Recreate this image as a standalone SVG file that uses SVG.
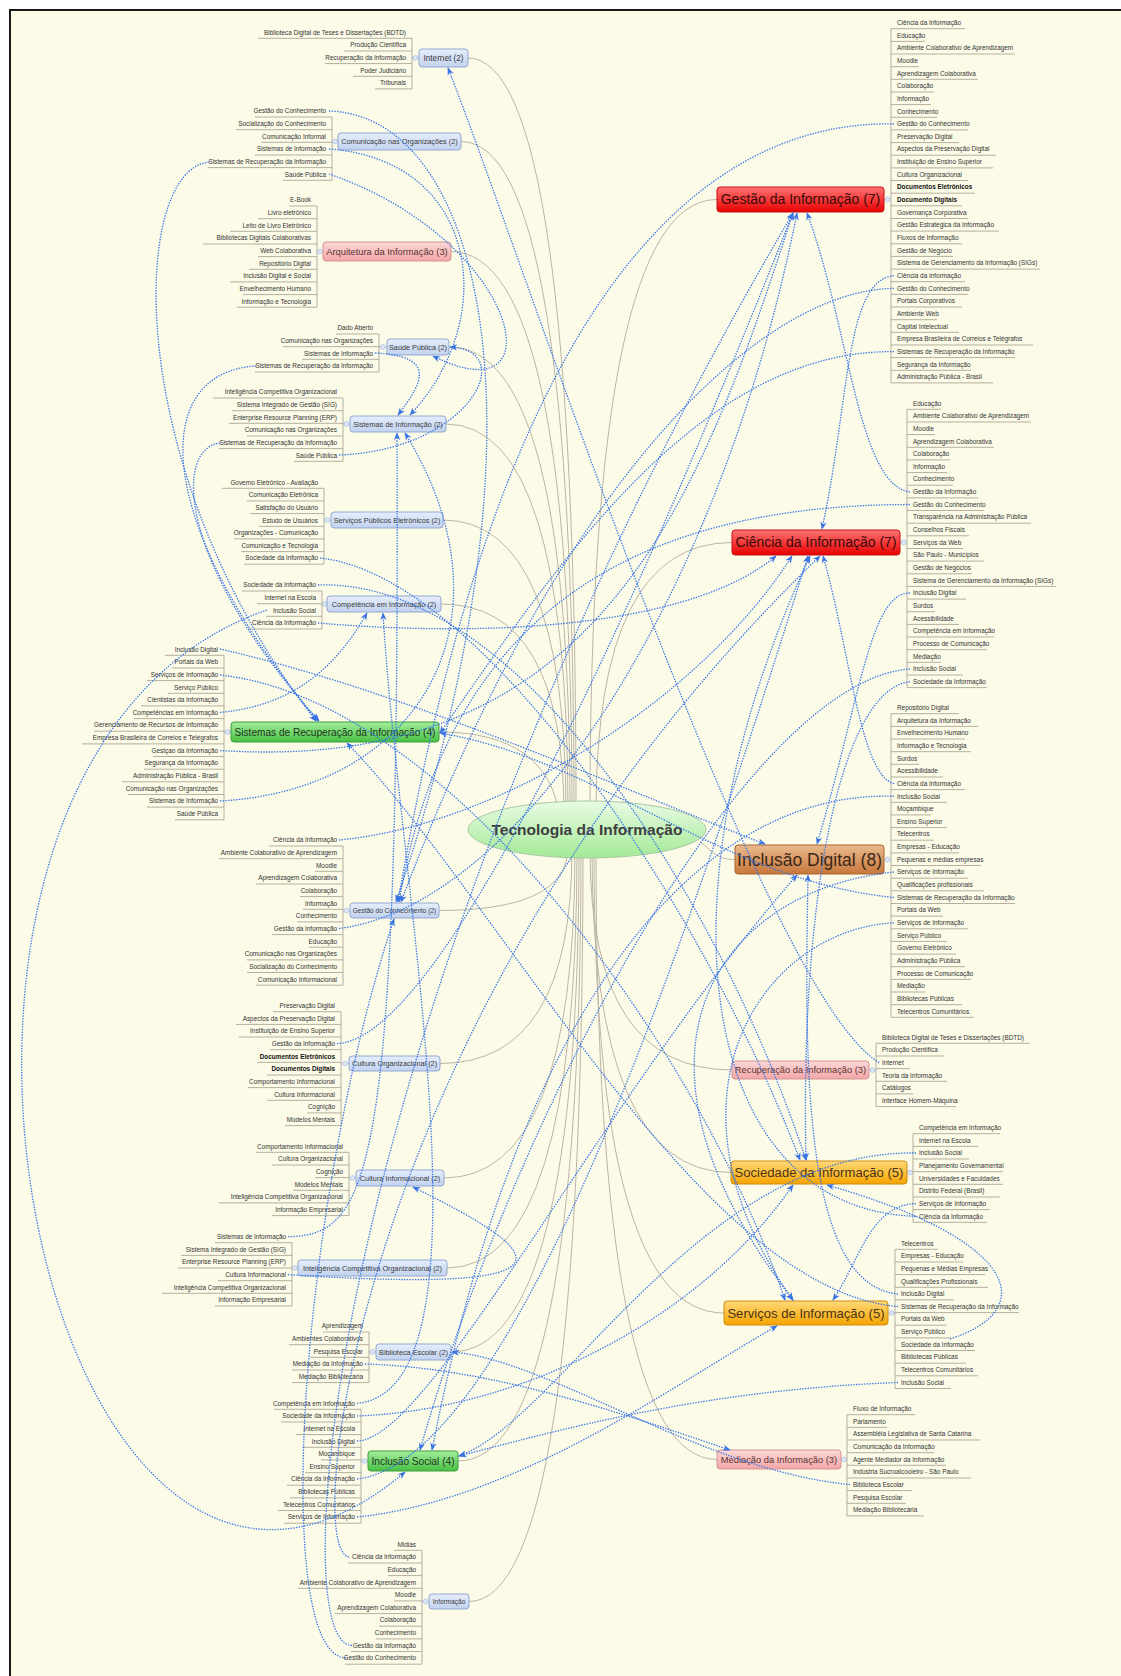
<svg xmlns="http://www.w3.org/2000/svg" width="1121" height="1676" viewBox="0 0 1121 1676">
<defs>
<style>
.lf{font-family:'Liberation Sans',Arial,sans-serif;font-size:6.4px;fill:#333;text-anchor:end}
.lr{font-family:'Liberation Sans',Arial,sans-serif;font-size:6.4px;fill:#333}
.bd{font-weight:bold;fill:#111}
.ul{fill:none;stroke:#aca697;stroke-width:0.9}
.tree{fill:none;stroke:#bcb5a5;stroke-width:1}
.rel{fill:none;stroke:#3a76e6;stroke-width:1.3;stroke-dasharray:1.4 1.3;marker-end:url(#ah)}
.stub{stroke:#bccae6;stroke-width:1.6}
.knob{fill:#dde7f7;stroke:#b3c4e4;stroke-width:0.8}
.nt{font-family:'Liberation Sans',Arial,sans-serif;text-anchor:middle}
.nb{fill:url(#gBlue);stroke:#93a9d2;stroke-width:1}
.np{fill:url(#gPink);stroke:#d49494;stroke-width:1}
.nr{fill:url(#gRed);stroke:#c41010;stroke-width:1}
.ng{fill:url(#gGreen);stroke:#3f9d3f;stroke-width:1}
.no{fill:url(#gOrange);stroke:#d08c10;stroke-width:1}
.nw{fill:url(#gBrown);stroke:#a9652e;stroke-width:1}
.tb{font-size:7.3px;fill:#3a3a3a}
.tp{font-size:9.3px;fill:#5a3434}
.tr{font-size:14px;fill:#3a0a0a}
.tg{font-size:10.1px;fill:#1f331f}
.to{font-size:13.1px;fill:#4a3418}
</style>
<linearGradient id="gBlue" x1="0" y1="0" x2="0" y2="1"><stop offset="0" stop-color="#e6eefb"/><stop offset="1" stop-color="#c2d2ef"/></linearGradient>
<linearGradient id="gPink" x1="0" y1="0" x2="0" y2="1"><stop offset="0" stop-color="#fcd8d8"/><stop offset="1" stop-color="#f3a6a6"/></linearGradient>
<linearGradient id="gRed" x1="0" y1="0" x2="0" y2="1"><stop offset="0" stop-color="#ff7474"/><stop offset="1" stop-color="#e80000"/></linearGradient>
<linearGradient id="gGreen" x1="0" y1="0" x2="0" y2="1"><stop offset="0" stop-color="#a4ee9c"/><stop offset="1" stop-color="#46c042"/></linearGradient>
<linearGradient id="gOrange" x1="0" y1="0" x2="0" y2="1"><stop offset="0" stop-color="#ffd978"/><stop offset="1" stop-color="#f6a400"/></linearGradient>
<linearGradient id="gBrown" x1="0" y1="0" x2="0" y2="1"><stop offset="0" stop-color="#ebba8e"/><stop offset="1" stop-color="#c7773a"/></linearGradient>
<linearGradient id="gEll" x1="0" y1="0" x2="0" y2="1"><stop offset="0" stop-color="#e8fbe4"/><stop offset="1" stop-color="#a4ea96"/></linearGradient>
<marker id="ah" viewBox="0 0 10 10" refX="9" refY="5" markerWidth="8" markerHeight="8" markerUnits="userSpaceOnUse" orient="auto"><path d="M0,1 L10,5 L0,9 L3,5 z" fill="#3a74e4"/></marker>
</defs>

<rect width="1121" height="1676" fill="#ffffff"/>
<rect x="10" y="10" width="1111" height="1666" fill="#fcfbe8"/>
<path d="M10,1676V10H1121" fill="none" stroke="#1a1a1a" stroke-width="2"/>

<g id="connectors-tree">
<path class="tree" d="M468,58 Q576,58 576,810"/>
<path class="tree" d="M461,141.5 Q574,141.5 574,810"/>
<path class="tree" d="M451,251.5 Q572,251.5 572,810"/>
<path class="tree" d="M449,347 Q570,347 570,812"/>
<path class="tree" d="M446,424 Q568,424 568,812"/>
<path class="tree" d="M443,520 Q566,520 566,814"/>
<path class="tree" d="M441,604 Q564,604 564,816"/>
<path class="tree" d="M439,732 Q550,732 560,820"/>
<path class="tree" d="M717,199.5 Q590,199.5 590,810"/>
<path class="tree" d="M732,542.5 Q596,542.5 596,812"/>
<path class="tree" d="M735,859.5 C715,859.5 712,850 700,842"/>
<path class="tree" d="M439,910.5 Q565,910.5 568,850"/>
<path class="tree" d="M440,1063.5 Q572,1063.5 572,850"/>
<path class="tree" d="M444,1178 Q575,1178 575,850"/>
<path class="tree" d="M447,1268 Q577,1268 577,850"/>
<path class="tree" d="M451,1352 Q579,1352 579,850"/>
<path class="tree" d="M458,1461 Q581,1461 581,850"/>
<path class="tree" d="M469,1601.5 Q583,1601.5 583,850"/>
<path class="tree" d="M732,1070 Q590,1070 590,850"/>
<path class="tree" d="M731,1172.5 Q592,1172.5 592,850"/>
<path class="tree" d="M724,1313 Q594,1313 594,850"/>
<path class="tree" d="M717,1459.5 Q596,1459.5 596,850"/>
</g>

<g id="central">
<ellipse cx="587" cy="829.5" rx="119" ry="28.5" fill="url(#gEll)" stroke="#a9c9a2" stroke-width="1"/>
<text class="nt" x="587" y="835" style="font-size:15.5px;font-weight:bold;fill:#3e3e3e">Tecnologia da Informação</text>
</g>

<g id="internet">
<line class="stub" x1="412" y1="58" x2="419" y2="58"/><circle class="knob" cx="415.5" cy="58" r="2.4"/>
<rect class="nb" x="419" y="49" width="49" height="18" rx="3"/>
<text class="nt tb" x="443.5" y="60.9" style="font-size:8.2px">Internet (2)</text>
<g transform="translate(412,32.3)">
<path class="ul" d="M-154,6H0M-68,18.7H0M-87,31.3H0M-59,44H0M-37,56.6H0M0,6V56.6"/>
<text class="lf" x="-6" y="2.3">Biblioteca Digital de Teses e Dissertações (BDTD)</text>
<text class="lf" x="-6" y="15">Produção Científica</text>
<text class="lf" x="-6" y="27.6">Recuperação da Informação</text>
<text class="lf" x="-6" y="40.3">Poder Judiciário</text>
<text class="lf" x="-6" y="52.9">Tribunais</text>
</g>
</g>

<g id="comunicacao-organizacoes">
<line class="stub" x1="332" y1="141.5" x2="338" y2="141.5"/><circle class="knob" cx="335" cy="141.5" r="2.4"/>
<rect class="nb" x="338" y="133" width="123" height="17" rx="3"/>
<text class="nt tb" x="399.5" y="144.1">Comunicação nas Organizações (2)</text>
<g transform="translate(332,111)">
<path class="ul" d="M-77,6H0M-96,18.7H0M-71,31.3H0M-77,44H0M-124,56.6H0M-49,69.3H0M0,6V69.3"/>
<text class="lf" x="-6" y="2.3">Gestão do Conhecimento</text>
<text class="lf" x="-6" y="15">Socialização do Conhecimento</text>
<text class="lf" x="-6" y="27.6">Comunicação Informal</text>
<text class="lf" x="-6" y="40.3">Sistemas de Informação</text>
<text class="lf" x="-6" y="52.9">Sistemas de Recuperação da Informação</text>
<text class="lf" x="-6" y="65.6">Saúde Pública</text>
</g>
</g>

<g id="arquitetura">
<line class="stub" x1="317" y1="251.5" x2="323" y2="251.5"/><circle class="knob" cx="320" cy="251.5" r="2.4"/>
<rect class="np" x="323" y="242" width="128" height="19" rx="3"/>
<text class="nt tp" x="387" y="254.8">Arquitetura da Informação (3)</text>
<g transform="translate(317,200)">
<path class="ul" d="M-28,6H0M-59,18.7H0M-87,31.3H0M-114,44H0M-59,56.6H0M-68,69.3H0M-87,81.9H0M-74,94.6H0M-80,107.2H0M0,6V107.2"/>
<text class="lf" x="-6" y="2.3">E-Book</text>
<text class="lf" x="-6" y="15">Livro eletrônico</text>
<text class="lf" x="-6" y="27.6">Leito de Livro Eletrônico</text>
<text class="lf" x="-6" y="40.3">Bibliotecas Digitais Colaborativas</text>
<text class="lf" x="-6" y="52.9">Web Colaborativa</text>
<text class="lf" x="-6" y="65.6">Repositório Digital</text>
<text class="lf" x="-6" y="78.2">Inclusão Digital e Social</text>
<text class="lf" x="-6" y="90.9">Envelhecimento Humano</text>
<text class="lf" x="-6" y="103.5">Informação e Tecnologia</text>
</g>
</g>

<g id="saude-publica">
<line class="stub" x1="379" y1="347" x2="387" y2="347"/><circle class="knob" cx="383" cy="347" r="2.4"/>
<rect class="nb" x="387" y="339" width="62" height="16" rx="3"/>
<text class="nt tb" x="418" y="349.6">Saúde Pública (2)</text>
<g transform="translate(379,328)">
<path class="ul" d="M-43,6H0M-96,18.7H0M-77,31.3H0M-124,44H0M0,6V44"/>
<text class="lf" x="-6" y="2.3">Dado Aberto</text>
<text class="lf" x="-6" y="15">Comunicação nas Organizações</text>
<text class="lf" x="-6" y="27.6">Sistemas de Informação</text>
<text class="lf" x="-6" y="40.3">Sistemas de Recuperação da Informação</text>
</g>
</g>

<g id="sistemas-informacao">
<line class="stub" x1="343" y1="424" x2="350" y2="424"/><circle class="knob" cx="346.5" cy="424" r="2.4"/>
<rect class="nb" x="350" y="416" width="96" height="16" rx="3"/>
<text class="nt tb" x="398" y="426.6">Sistemas de Informação (2)</text>
<g transform="translate(343,392)">
<path class="ul" d="M-130,6H0M-111,18.7H0M-114,31.3H0M-96,44H0M-124,56.6H0M-49,69.3H0M0,6V69.3"/>
<text class="lf" x="-6" y="2.3">Inteligência Competitiva Organizacional</text>
<text class="lf" x="-6" y="15">Sistema Integrado de Gestão (SIG)</text>
<text class="lf" x="-6" y="27.6">Enterprise Resource Planning (ERP)</text>
<text class="lf" x="-6" y="40.3">Comunicação nas Organizações</text>
<text class="lf" x="-6" y="52.9">Sistemas de Recuperação da Informação</text>
<text class="lf" x="-6" y="65.6">Saúde Pública</text>
</g>
</g>

<g id="servicos-publicos-eletronicos">
<line class="stub" x1="324" y1="520" x2="331" y2="520"/><circle class="knob" cx="327.5" cy="520" r="2.4"/>
<rect class="nb" x="331" y="512" width="112" height="16" rx="3"/>
<text class="nt tb" x="387" y="522.6">Serviços Públicos Eletrônicos (2)</text>
<g transform="translate(324,482.3)">
<path class="ul" d="M-102,6H0M-77,18.7H0M-74,31.3H0M-65,44H0M-90,56.6H0M-83,69.3H0M-80,81.9H0M0,6V81.9"/>
<text class="lf" x="-6" y="2.3">Governo Eletrônico - Avaliação</text>
<text class="lf" x="-6" y="15">Comunicação Eletrônica</text>
<text class="lf" x="-6" y="27.6">Satisfação do Usuário</text>
<text class="lf" x="-6" y="40.3">Estudo de Usuários</text>
<text class="lf" x="-6" y="52.9">Organizações - Comunicação</text>
<text class="lf" x="-6" y="65.6">Comunicação e Tecnologia</text>
<text class="lf" x="-6" y="78.2">Sociedade da Informação</text>
</g>
</g>

<g id="competencia-informacao">
<line class="stub" x1="322" y1="604" x2="327" y2="604"/><circle class="knob" cx="324.5" cy="604" r="2.4"/>
<rect class="nb" x="327" y="596" width="114" height="16" rx="3"/>
<text class="nt tb" x="384" y="606.6">Competência em Informação (2)</text>
<g transform="translate(322,585)">
<path class="ul" d="M-80,6H0M-65,18.7H0M-56,31.3H0M-74,44H0M0,6V44"/>
<text class="lf" x="-6" y="2.3">Sociedade da Informação</text>
<text class="lf" x="-6" y="15">Internet na Escola</text>
<text class="lf" x="-6" y="27.6">Inclusão Social</text>
<text class="lf" x="-6" y="40.3">Ciência da Informação</text>
</g>
</g>

<g id="sistemas-recuperacao">
<line class="stub" x1="224" y1="732" x2="231" y2="732"/><circle class="knob" cx="227.5" cy="732" r="2.4"/>
<rect class="ng" x="231" y="722" width="208" height="20" rx="3"/>
<text class="nt tg" x="335" y="735.5">Sistemas de Recuperação da Informação (4)</text>
<g transform="translate(224,649.3)">
<path class="ul" d="M-59,6H0M-52,18.7H0M-77,31.3H0M-56,44H0M-83,56.6H0M-90,69.3H0M-130,81.9H0M-142,94.6H0M-71,107.2H0M-80,119.9H0M-102,132.5H0M-96,145.2H0M-77,157.8H0M-49,170.5H0M0,6V170.5"/>
<text class="lf" x="-6" y="2.3">Inclusão Digital</text>
<text class="lf" x="-6" y="15">Portais da Web</text>
<text class="lf" x="-6" y="27.6">Serviços de Informação</text>
<text class="lf" x="-6" y="40.3">Serviço Público</text>
<text class="lf" x="-6" y="52.9">Cientistas da Informação</text>
<text class="lf" x="-6" y="65.6">Competências em Informação</text>
<text class="lf" x="-6" y="78.2">Gerenciamento de Recursos de Informação</text>
<text class="lf" x="-6" y="90.9">Empresa Brasileira de Correios e Telégrafos</text>
<text class="lf" x="-6" y="103.5">Gestçao da Informação</text>
<text class="lf" x="-6" y="116.2">Segurança da Informação</text>
<text class="lf" x="-6" y="128.8">Administração Pública - Brasil</text>
<text class="lf" x="-6" y="141.5">Comunicação nas Organizações</text>
<text class="lf" x="-6" y="154.1">Sistemas de Informação</text>
<text class="lf" x="-6" y="166.8">Saúde Pública</text>
</g>
</g>

<g id="gestao-conhecimento">
<line class="stub" x1="343" y1="910.5" x2="350" y2="910.5"/><circle class="knob" cx="346.5" cy="910.5" r="2.4"/>
<rect class="nb" x="350" y="903" width="89" height="15" rx="3"/>
<text class="nt tb" x="394.5" y="912.8" style="font-size:6.5px">Gestão do Conhecimento (2)</text>
<g transform="translate(343,840)">
<path class="ul" d="M-74,6H0M-124,18.7H0M-28,31.3H0M-87,44H0M-43,56.6H0M-40,69.3H0M-46,81.9H0M-71,94.6H0M-34,107.2H0M-96,119.9H0M-96,132.5H0M-87,145.2H0M0,6V145.2"/>
<text class="lf" x="-6" y="2.3">Ciência da Informação</text>
<text class="lf" x="-6" y="15">Ambiente Colaborativo de Aprendizagem</text>
<text class="lf" x="-6" y="27.6">Moodle</text>
<text class="lf" x="-6" y="40.3">Aprendizagem Colaborativa</text>
<text class="lf" x="-6" y="52.9">Colaboração</text>
<text class="lf" x="-6" y="65.6">Informação</text>
<text class="lf" x="-6" y="78.2">Conhecimento</text>
<text class="lf" x="-6" y="90.9">Gestão da Informação</text>
<text class="lf" x="-6" y="103.5">Educação</text>
<text class="lf" x="-6" y="116.2">Comunicação nas Organizações</text>
<text class="lf" x="-6" y="128.8">Socialização do Conhecimento</text>
<text class="lf" x="-6" y="141.5">Comunicação Informacional</text>
</g>
</g>

<g id="cultura-organizacional">
<line class="stub" x1="341" y1="1063.5" x2="349" y2="1063.5"/><circle class="knob" cx="345" cy="1063.5" r="2.4"/>
<rect class="nb" x="349" y="1056" width="91" height="15" rx="3"/>
<text class="nt tb" x="394.5" y="1066.1">Cultura Organizacional (2)</text>
<g transform="translate(341,1005.7)">
<path class="ul" d="M-68,6H0M-105,18.7H0M-102,31.3H0M-71,44H0M-84,56.6H0M-74,69.3H0M-93,81.9H0M-74,94.6H0M-34,107.2H0M-56,119.9H0M0,6V119.9"/>
<text class="lf" x="-6" y="2.3">Preservação Digital</text>
<text class="lf" x="-6" y="15">Aspectos da Preservação Digital</text>
<text class="lf" x="-6" y="27.6">Instituição de Ensino Superior</text>
<text class="lf" x="-6" y="40.3">Gestão da Informação</text>
<text class="lf bd" x="-6" y="52.9">Documentos Eletrônicos</text>
<text class="lf bd" x="-6" y="65.6">Documentos Digitais</text>
<text class="lf" x="-6" y="78.2">Comportamento Informacional</text>
<text class="lf" x="-6" y="90.9">Cultura Informacional</text>
<text class="lf" x="-6" y="103.5">Cognição</text>
<text class="lf" x="-6" y="116.2">Modelos Mentais</text>
</g>
</g>

<g id="cultura-informacional">
<line class="stub" x1="349" y1="1178" x2="356" y2="1178"/><circle class="knob" cx="352.5" cy="1178" r="2.4"/>
<rect class="nb" x="356" y="1170" width="88" height="16" rx="3"/>
<text class="nt tb" x="400" y="1180.6">Cultura Informacional (2)</text>
<g transform="translate(349,1146.3)">
<path class="ul" d="M-93,6H0M-77,18.7H0M-34,31.3H0M-56,44H0M-130,56.6H0M-77,69.3H0M0,6V69.3"/>
<text class="lf" x="-6" y="2.3">Comportamento Informacional</text>
<text class="lf" x="-6" y="15">Cultura Organizacional</text>
<text class="lf" x="-6" y="27.6">Cognição</text>
<text class="lf" x="-6" y="40.3">Modelos Mentais</text>
<text class="lf" x="-6" y="52.9">Inteligência Competitiva Organizacional</text>
<text class="lf" x="-6" y="65.6">Informação Empresarial</text>
</g>
</g>

<g id="inteligencia-competitiva">
<line class="stub" x1="292" y1="1268" x2="298" y2="1268"/><circle class="knob" cx="295" cy="1268" r="2.4"/>
<rect class="nb" x="298" y="1260" width="149" height="16" rx="3"/>
<text class="nt tb" x="372.5" y="1270.6">Inteligência Competitiva Organizacional (2)</text>
<g transform="translate(292,1236.7)">
<path class="ul" d="M-77,6H0M-111,18.7H0M-114,31.3H0M-74,44H0M-130,56.6H0M-77,69.3H0M0,6V69.3"/>
<text class="lf" x="-6" y="2.3">Sistemas de Informação</text>
<text class="lf" x="-6" y="15">Sistema Integrado de Gestão (SIG)</text>
<text class="lf" x="-6" y="27.6">Enterprise Resource Planning (ERP)</text>
<text class="lf" x="-6" y="40.3">Cultura Informacional</text>
<text class="lf" x="-6" y="52.9">Inteligência Competitiva Organizacional</text>
<text class="lf" x="-6" y="65.6">Informação Empresarial</text>
</g>
</g>

<g id="biblioteca-escolar">
<line class="stub" x1="369" y1="1352" x2="376" y2="1352"/><circle class="knob" cx="372.5" cy="1352" r="2.4"/>
<rect class="nb" x="376" y="1344" width="75" height="16" rx="3"/>
<text class="nt tb" x="413.5" y="1354.6">Biblioteca Escolar (2)</text>
<g transform="translate(369,1326)">
<path class="ul" d="M-46,6H0M-80,18.7H0M-59,31.3H0M-77,44H0M-77,56.6H0M0,6V56.6"/>
<text class="lf" x="-6" y="2.3">Aprendizagem</text>
<text class="lf" x="-6" y="15">Ambientes Colaborativos</text>
<text class="lf" x="-6" y="27.6">Pesquisa Escolar</text>
<text class="lf" x="-6" y="40.3">Mediação da Informação</text>
<text class="lf" x="-6" y="52.9">Mediação Bibliotecária</text>
</g>
</g>

<g id="inclusao-social">
<line class="stub" x1="361" y1="1461" x2="368" y2="1461"/><circle class="knob" cx="364.5" cy="1461" r="2.4"/>
<rect class="ng" x="368" y="1451" width="90" height="20" rx="3"/>
<text class="nt tg" x="413" y="1464.5">Inclusão Social (4)</text>
<g transform="translate(361,1403.3)">
<path class="ul" d="M-87,6H0M-80,18.7H0M-65,31.3H0M-59,44H0M-40,56.6H0M-56,69.3H0M-74,81.9H0M-71,94.6H0M-83,107.2H0M-77,119.9H0M0,6V119.9"/>
<text class="lf" x="-6" y="2.3">Competência em Informação</text>
<text class="lf" x="-6" y="15">Sociedade da Informação</text>
<text class="lf" x="-6" y="27.6">Internet na Escola</text>
<text class="lf" x="-6" y="40.3">Inclusão Digital</text>
<text class="lf" x="-6" y="52.9">Moçambique</text>
<text class="lf" x="-6" y="65.6">Ensino Superior</text>
<text class="lf" x="-6" y="78.2">Ciência da Informação</text>
<text class="lf" x="-6" y="90.9">Bibliotecas Públicas</text>
<text class="lf" x="-6" y="103.5">Telecentros Comunitários</text>
<text class="lf" x="-6" y="116.2">Serviços de Informação</text>
</g>
</g>

<g id="informacao">
<line class="stub" x1="422" y1="1601.5" x2="429" y2="1601.5"/><circle class="knob" cx="425.5" cy="1601.5" r="2.4"/>
<rect class="nb" x="429" y="1594" width="40" height="15" rx="3"/>
<text class="nt tb" x="449" y="1603.8" style="font-size:6.5px">Informação</text>
<g transform="translate(422,1544.3)">
<path class="ul" d="M-28,6H0M-74,18.7H0M-34,31.3H0M-124,44H0M-28,56.6H0M-87,69.3H0M-43,81.9H0M-46,94.6H0M-71,107.2H0M-77,119.9H0M0,6V119.9"/>
<text class="lf" x="-6" y="2.3">Midias</text>
<text class="lf" x="-6" y="15">Ciência da Informação</text>
<text class="lf" x="-6" y="27.6">Educação</text>
<text class="lf" x="-6" y="40.3">Ambiente Colaborativo de Aprendizagem</text>
<text class="lf" x="-6" y="52.9">Moodle</text>
<text class="lf" x="-6" y="65.6">Aprendizagem Colaborativa</text>
<text class="lf" x="-6" y="78.2">Colaboração</text>
<text class="lf" x="-6" y="90.9">Conhecimento</text>
<text class="lf" x="-6" y="103.5">Gestão da Informação</text>
<text class="lf" x="-6" y="116.2">Gestão do Conhecimento</text>
</g>
</g>

<g id="gestao-informacao">
<line class="stub" x1="884" y1="199.5" x2="891" y2="199.5"/><circle class="knob" cx="887.5" cy="199.5" r="2.4"/>
<rect class="nr" x="717" y="187" width="167" height="25" rx="3"/>
<text class="nt tr" x="800.5" y="204.4">Gestão da Informação (7)</text>
<g transform="translate(891,22.7)">
<path class="ul" d="M0,6H74M0,18.7H34M0,31.3H124M0,44H28M0,56.6H87M0,69.3H43M0,81.9H40M0,94.6H46M0,107.2H77M0,119.9H68M0,132.5H105M0,145.2H102M0,157.8H77M0,170.5H84M0,183.1H71M0,195.8H77M0,208.4H108M0,221.1H71M0,233.7H62M0,246.4H149M0,259H74M0,271.7H77M0,284.3H71M0,297H46M0,309.6H68M0,322.3H142M0,334.9H124M0,347.6H80M0,360.2H102M0,6V360.2"/>
<text class="lr" x="6" y="2.3">Ciência da Informação</text>
<text class="lr" x="6" y="15">Educação</text>
<text class="lr" x="6" y="27.6">Ambiente Colaborativo de Aprendizagem</text>
<text class="lr" x="6" y="40.3">Moodle</text>
<text class="lr" x="6" y="52.9">Aprendizagem Colaborativa</text>
<text class="lr" x="6" y="65.6">Colaboração</text>
<text class="lr" x="6" y="78.2">Informação</text>
<text class="lr" x="6" y="90.9">Conhecimento</text>
<text class="lr" x="6" y="103.5">Gestão do Conhecimento</text>
<text class="lr" x="6" y="116.2">Preservação Digital</text>
<text class="lr" x="6" y="128.8">Aspectos da Preservação Digital</text>
<text class="lr" x="6" y="141.5">Instituição de Ensino Superior</text>
<text class="lr" x="6" y="154.1">Cultura Organizacional</text>
<text class="lr bd" x="6" y="166.8">Documentos Eletrônicos</text>
<text class="lr bd" x="6" y="179.4">Documento Digitais</text>
<text class="lr" x="6" y="192.1">Governança Corporativa</text>
<text class="lr" x="6" y="204.7">Gestão Estratégica da Informação</text>
<text class="lr" x="6" y="217.4">Fluxos de Informação</text>
<text class="lr" x="6" y="230">Gestão de Negócio</text>
<text class="lr" x="6" y="242.7">Sistema de Gerenciamento da Informação (SIGs)</text>
<text class="lr" x="6" y="255.3">Ciência da Informação</text>
<text class="lr" x="6" y="268">Gestão do Conhecimento</text>
<text class="lr" x="6" y="280.6">Portais Corporativos</text>
<text class="lr" x="6" y="293.3">Ambiente Web</text>
<text class="lr" x="6" y="305.9">Capital Intelectual</text>
<text class="lr" x="6" y="318.6">Empresa Brasileira de Correios e Telégrafos</text>
<text class="lr" x="6" y="331.2">Sistemas de Recuperação da Informação</text>
<text class="lr" x="6" y="343.9">Segurança da Informação</text>
<text class="lr" x="6" y="356.5">Administração Pública - Brasil</text>
</g>
</g>

<g id="ciencia-informacao">
<line class="stub" x1="900" y1="542.5" x2="907" y2="542.5"/><circle class="knob" cx="903.5" cy="542.5" r="2.4"/>
<rect class="nr" x="732" y="530" width="168" height="25" rx="3"/>
<text class="nt tr" x="816" y="547.4">Ciência da Informação (7)</text>
<g transform="translate(907,403.3)">
<path class="ul" d="M0,6H34M0,18.7H124M0,31.3H28M0,44H87M0,56.6H43M0,69.3H40M0,81.9H46M0,94.6H71M0,107.2H77M0,119.9H124M0,132.5H62M0,145.2H56M0,157.8H77M0,170.5H65M0,183.1H149M0,195.8H59M0,208.4H28M0,221.1H52M0,233.7H87M0,246.4H80M0,259H34M0,271.7H56M0,284.3H80M0,6V284.3"/>
<text class="lr" x="6" y="2.3">Educação</text>
<text class="lr" x="6" y="15">Ambiente Colaborativo de Aprendizagem</text>
<text class="lr" x="6" y="27.6">Moodle</text>
<text class="lr" x="6" y="40.3">Aprendizagem Colaborativa</text>
<text class="lr" x="6" y="52.9">Colaboração</text>
<text class="lr" x="6" y="65.6">Informação</text>
<text class="lr" x="6" y="78.2">Conhecimento</text>
<text class="lr" x="6" y="90.9">Gestão da Informação</text>
<text class="lr" x="6" y="103.5">Gestão do Conhecimento</text>
<text class="lr" x="6" y="116.2">Transparência na Administração Pública</text>
<text class="lr" x="6" y="128.8">Conselhos Fiscais</text>
<text class="lr" x="6" y="141.5">Serviços da Web</text>
<text class="lr" x="6" y="154.1">São Paulo - Municípios</text>
<text class="lr" x="6" y="166.8">Gestão de Negócios</text>
<text class="lr" x="6" y="179.4">Sistema de Gerenciamento da Informação (SIGs)</text>
<text class="lr" x="6" y="192.1">Inclusão Digital</text>
<text class="lr" x="6" y="204.7">Surdos</text>
<text class="lr" x="6" y="217.4">Acessibilidade</text>
<text class="lr" x="6" y="230">Competência em Informação</text>
<text class="lr" x="6" y="242.7">Processo de Comunicação</text>
<text class="lr" x="6" y="255.3">Mediação</text>
<text class="lr" x="6" y="268">Inclusão Social</text>
<text class="lr" x="6" y="280.6">Sociedade da Informação</text>
</g>
</g>

<g id="inclusao-digital">
<line class="stub" x1="884" y1="859.5" x2="891" y2="859.5"/><circle class="knob" cx="887.5" cy="859.5" r="2.4"/>
<rect class="nw" x="735" y="845" width="149" height="29" rx="3"/>
<text class="nt" x="809.5" y="865.6" style="font-size:17.5px;fill:#3a2818">Inclusão Digital (8)</text>
<g transform="translate(891,707.7)">
<path class="ul" d="M0,6H68M0,18.7H87M0,31.3H74M0,44H80M0,56.6H28M0,69.3H52M0,81.9H74M0,94.6H56M0,107.2H40M0,119.9H56M0,132.5H43M0,145.2H68M0,157.8H90M0,170.5H77M0,183.1H93M0,195.8H124M0,208.4H52M0,221.1H77M0,233.7H56M0,246.4H65M0,259H74M0,271.7H80M0,284.3H34M0,297H71M0,309.6H83M0,6V309.6"/>
<text class="lr" x="6" y="2.3">Repositório Digital</text>
<text class="lr" x="6" y="15">Arquitetura da Informação</text>
<text class="lr" x="6" y="27.6">Envelhecimento Humano</text>
<text class="lr" x="6" y="40.3">Informação e Tecnologia</text>
<text class="lr" x="6" y="52.9">Surdos</text>
<text class="lr" x="6" y="65.6">Acessibilidade</text>
<text class="lr" x="6" y="78.2">Ciência da Informação</text>
<text class="lr" x="6" y="90.9">Inclusão Social</text>
<text class="lr" x="6" y="103.5">Moçambique</text>
<text class="lr" x="6" y="116.2">Ensino Superior</text>
<text class="lr" x="6" y="128.8">Telecentros</text>
<text class="lr" x="6" y="141.5">Empresas - Educação</text>
<text class="lr" x="6" y="154.1">Pequenas e médias empresas</text>
<text class="lr" x="6" y="166.8">Serviços de Informação</text>
<text class="lr" x="6" y="179.4">Qualificações profissionais</text>
<text class="lr" x="6" y="192.1">Sistemas de Recuperação da Informação</text>
<text class="lr" x="6" y="204.7">Portais da Web</text>
<text class="lr" x="6" y="217.4">Serviços de Informação</text>
<text class="lr" x="6" y="230">Serviço Público</text>
<text class="lr" x="6" y="242.7">Governo Eletrônico</text>
<text class="lr" x="6" y="255.3">Administração Pública</text>
<text class="lr" x="6" y="268">Processo de Comunicação</text>
<text class="lr" x="6" y="280.6">Mediação</text>
<text class="lr" x="6" y="293.3">Bibliotecas Públicas</text>
<text class="lr" x="6" y="305.9">Telecentros Comunitários</text>
</g>
</g>

<g id="recuperacao-informacao">
<line class="stub" x1="869" y1="1070" x2="876" y2="1070"/><circle class="knob" cx="872.5" cy="1070" r="2.4"/>
<rect class="np" x="732" y="1061" width="137" height="18" rx="3"/>
<text class="nt tp" x="800.5" y="1073.3">Recuperação da Informação (3)</text>
<g transform="translate(876,1037.3)">
<path class="ul" d="M0,6H154M0,18.7H68M0,31.3H34M0,44H71M0,56.6H37M0,69.3H80M0,6V69.3"/>
<text class="lr" x="6" y="2.3">Biblioteca Digital de Teses e Dissertações (BDTD)</text>
<text class="lr" x="6" y="15">Produção Científica</text>
<text class="lr" x="6" y="27.6">Internet</text>
<text class="lr" x="6" y="40.3">Teoria da Informação</text>
<text class="lr" x="6" y="52.9">Catálogos</text>
<text class="lr" x="6" y="65.6">Interface Homem-Máquina</text>
</g>
</g>

<g id="sociedade-informacao">
<line class="stub" x1="907" y1="1172.5" x2="913" y2="1172.5"/><circle class="knob" cx="910" cy="1172.5" r="2.4"/>
<rect class="no" x="731" y="1161" width="176" height="23" rx="3"/>
<text class="nt to" x="819" y="1177.1">Sociedade da Informação (5)</text>
<g transform="translate(913,1127.7)">
<path class="ul" d="M0,6H87M0,18.7H65M0,31.3H56M0,44H90M0,56.6H90M0,69.3H87M0,81.9H77M0,94.6H74M0,6V94.6"/>
<text class="lr" x="6" y="2.3">Competência em Informação</text>
<text class="lr" x="6" y="15">Internet na Escola</text>
<text class="lr" x="6" y="27.6">Inclusão Social</text>
<text class="lr" x="6" y="40.3">Planejamento Governamental</text>
<text class="lr" x="6" y="52.9">Universidades e Faculdades</text>
<text class="lr" x="6" y="65.6">Distrito Federal (Brasil)</text>
<text class="lr" x="6" y="78.2">Serviços de Informação</text>
<text class="lr" x="6" y="90.9">Ciência da Informação</text>
</g>
</g>

<g id="servicos-informacao">
<line class="stub" x1="888" y1="1313" x2="895" y2="1313"/><circle class="knob" cx="891.5" cy="1313" r="2.4"/>
<rect class="no" x="724" y="1301" width="164" height="24" rx="3"/>
<text class="nt to" x="806" y="1317.6">Serviços de Informação (5)</text>
<g transform="translate(895,1243.3)">
<path class="ul" d="M0,6H43M0,18.7H68M0,31.3H90M0,44H93M0,56.6H59M0,69.3H124M0,81.9H52M0,94.6H56M0,107.2H80M0,119.9H71M0,132.5H83M0,145.2H56M0,6V145.2"/>
<text class="lr" x="6" y="2.3">Telecentros</text>
<text class="lr" x="6" y="15">Empresas - Educação</text>
<text class="lr" x="6" y="27.6">Pequenas e Médias Empresas</text>
<text class="lr" x="6" y="40.3">Qualificações Profissionais</text>
<text class="lr" x="6" y="52.9">Inclusão Digital</text>
<text class="lr" x="6" y="65.6">Sistemas de Recuperação da Informação</text>
<text class="lr" x="6" y="78.2">Portais da Web</text>
<text class="lr" x="6" y="90.9">Serviço Público</text>
<text class="lr" x="6" y="103.5">Sociedade da Informação</text>
<text class="lr" x="6" y="116.2">Bibliotecas Públicas</text>
<text class="lr" x="6" y="128.8">Telecentros Comunitários</text>
<text class="lr" x="6" y="141.5">Inclusão Social</text>
</g>
</g>

<g id="mediacao-informacao">
<line class="stub" x1="841" y1="1459.5" x2="847" y2="1459.5"/><circle class="knob" cx="844" cy="1459.5" r="2.4"/>
<rect class="np" x="717" y="1450" width="124" height="19" rx="3"/>
<text class="nt tp" x="779" y="1462.8">Mediação da Informação (3)</text>
<g transform="translate(847,1408.7)">
<path class="ul" d="M0,6H68M0,18.7H40M0,31.3H133M0,44H87M0,56.6H99M0,69.3H124M0,81.9H65M0,94.6H59M0,107.2H77M0,6V107.2"/>
<text class="lr" x="6" y="2.3">Fluxo de Informação</text>
<text class="lr" x="6" y="15">Parlamento</text>
<text class="lr" x="6" y="27.6">Assembléia Legislativa de Santa Catarina</text>
<text class="lr" x="6" y="40.3">Comunicação da Informação</text>
<text class="lr" x="6" y="52.9">Agente Mediador da Informação</text>
<text class="lr" x="6" y="65.6">Indústria Sucroalcooleiro - São Paulo</text>
<text class="lr" x="6" y="78.2">Biblioteca Escolar</text>
<text class="lr" x="6" y="90.9">Pesquisa Escolar</text>
<text class="lr" x="6" y="103.5">Mediação Bibliotecária</text>
</g>
</g>

<g id="connectors-relations">
<path class="rel" d="M879,1062.6 C760,990 520,250 448,68"/>
<path class="rel" d="M329,111 C480,115 560,420 396,902"/>
<path class="rel" d="M329,149 C480,160 500,320 410,415"/>
<path class="rel" d="M329,174 C520,240 560,420 433,356"/>
<path class="rel" d="M375,353 C435,356 425,380 398,415"/>
<path class="rel" d="M256,366 C150,372 150,520 318,721"/>
<path class="rel" d="M209,162 C130,170 120,470 316,721"/>
<path class="rel" d="M220,443 C175,448 175,560 319,721"/>
<path class="rel" d="M339,455 C470,450 520,350 450,347"/>
<path class="rel" d="M320,558 C480,575 700,900 800,1160"/>
<path class="rel" d="M318,585 C520,578 720,900 806,1160"/>
<path class="rel" d="M267,610 C-170,760 40,1780 405,1472"/>
<path class="rel" d="M318,623 C520,640 700,620 776,556"/>
<path class="rel" d="M220,649 C400,690 600,780 765,844"/>
<path class="rel" d="M220,675 C450,700 700,1050 785,1300"/>
<path class="rel" d="M220,712.5 C300,705 340,660 367,613"/>
<path class="rel" d="M220,750.5 C600,775 700,500 793,213"/>
<path class="rel" d="M220,801 C420,790 520,620 405,433"/>
<path class="rel" d="M339,840 C500,825 700,700 792,556"/>
<path class="rel" d="M339,928.5 C520,905 720,600 797,213"/>
<path class="rel" d="M337,1043.6 C430,1040 600,700 793,213"/>
<path class="rel" d="M288,1236.7 C370,1235 400,1180 397,433"/>
<path class="rel" d="M288,1274.6 C600,1295 540,1250 413,1187"/>
<path class="rel" d="M365,1364 C500,1368 640,1420 730,1450"/>
<path class="rel" d="M850,1484.6 C700,1470 550,1360 452,1352"/>
<path class="rel" d="M357,1403.3 C500,1390 400,900 383,613"/>
<path class="rel" d="M357,1416 C520,1410 700,1320 793,1185"/>
<path class="rel" d="M357,1441 C430,1440 600,1100 797,875"/>
<path class="rel" d="M357,1479 C520,1460 700,900 808,556"/>
<path class="rel" d="M357,1517 C520,1500 680,1380 777,1326"/>
<path class="rel" d="M349,1557 C300,1550 360,1000 820,556"/>
<path class="rel" d="M352,1645.5 C280,1645 330,1000 793,213"/>
<path class="rel" d="M346,1658 C270,1655 300,1200 394,919"/>
<path class="rel" d="M894,124 C700,120 500,300 398,902"/>
<path class="rel" d="M894,275.7 C845,280 850,400 822,529"/>
<path class="rel" d="M894,288.4 C760,290 560,480 401,902"/>
<path class="rel" d="M894,351.6 C700,350 560,560 440,733"/>
<path class="rel" d="M910,492 C858,485 850,330 807,213"/>
<path class="rel" d="M910,504.5 C650,505 450,600 399,902"/>
<path class="rel" d="M910,593 C870,592 860,700 817,844"/>
<path class="rel" d="M910,669 C750,680 520,1100 420,1450"/>
<path class="rel" d="M910,681.6 C840,690 800,900 806,1160"/>
<path class="rel" d="M894,783.6 C860,775 850,650 823,556"/>
<path class="rel" d="M894,796.3 C700,790 520,1000 432,1450"/>
<path class="rel" d="M894,872 C720,890 600,1050 793,1300"/>
<path class="rel" d="M894,897.5 C720,880 600,760 440,733"/>
<path class="rel" d="M894,922.8 C760,930 650,1100 793,1300"/>
<path class="rel" d="M916,1153 C700,1150 560,1420 459,1456"/>
<path class="rel" d="M916,1203.6 C870,1205 860,1260 833,1300"/>
<path class="rel" d="M916,1216.3 C700,1210 650,900 810,556"/>
<path class="rel" d="M898,1294 C800,1285 805,1050 808,875"/>
<path class="rel" d="M898,1306.5 C700,1290 500,900 347,743"/>
<path class="rel" d="M950,1339 C1040,1310 1020,1240 827,1185"/>
<path class="rel" d="M898,1382.5 C700,1390 560,1430 459,1456"/>
</g>
</svg>
